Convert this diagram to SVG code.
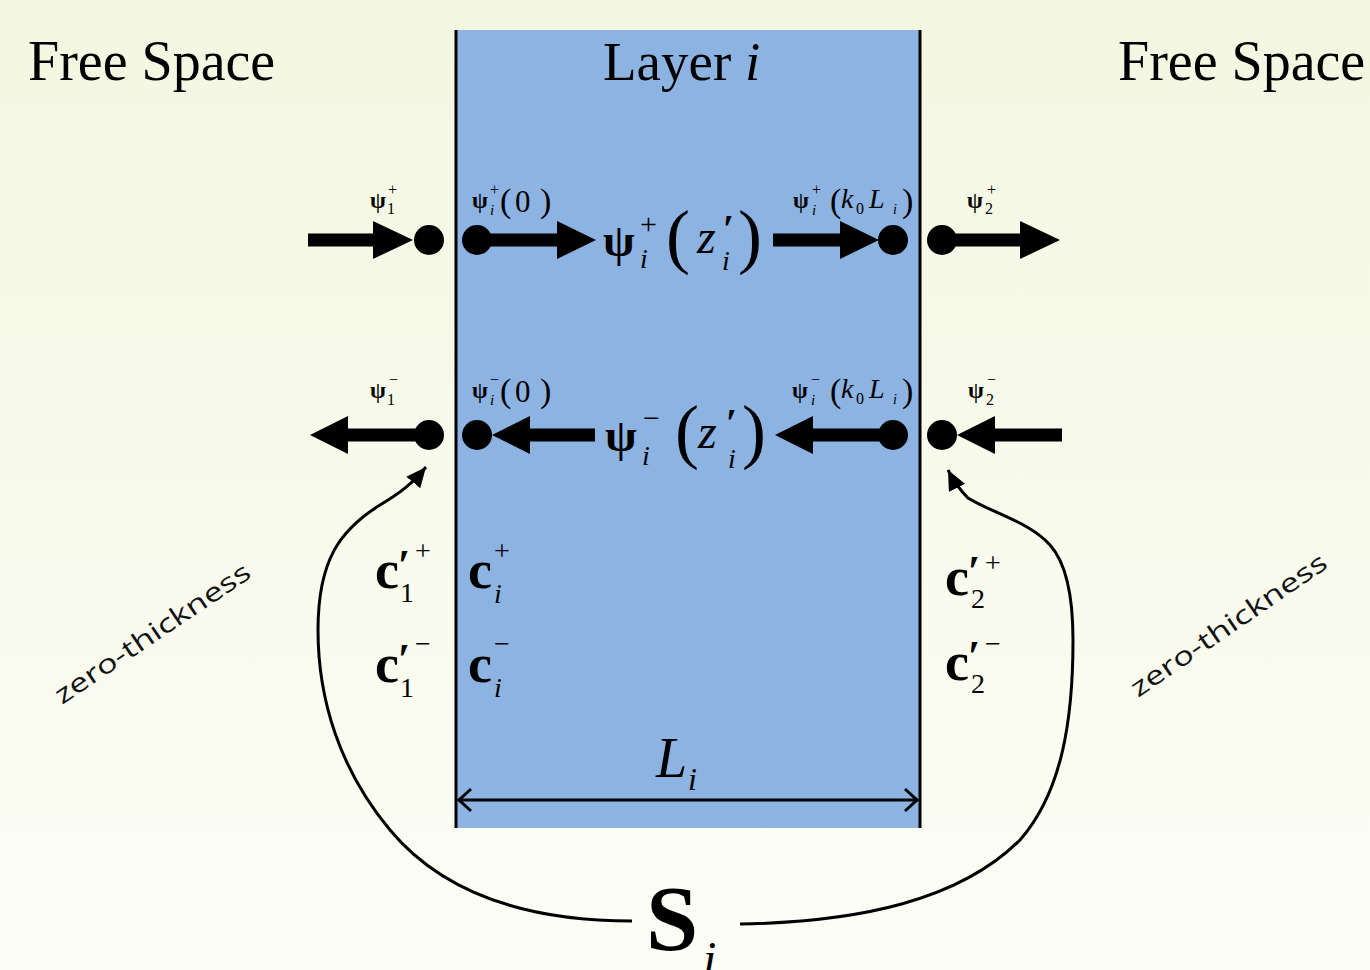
<svg xmlns="http://www.w3.org/2000/svg" width="1370" height="970" viewBox="0 0 1370 970">
<defs>
<linearGradient id="bg" x1="0" y1="0" x2="0" y2="1">
<stop offset="0" stop-color="#f3f7e1"/>
<stop offset="1" stop-color="#fcfdf6"/>
</linearGradient>
<marker id="ah" markerUnits="userSpaceOnUse" markerWidth="24" markerHeight="20" refX="20" refY="9" orient="auto" viewBox="0 0 24 20">
<path d="M0,0 L20,9 L0,18 Z" fill="#000"/>
</marker>
<style>
.s{font-family:"Liberation Serif","Times New Roman",serif;fill:#000}
.p{font-family:"Liberation Serif","DejaVu Serif",serif;fill:#000;font-weight:bold}
.b{font-weight:bold}
.i{font-style:italic}
.sans{font-family:"Open Sans","Noto Sans",sans-serif;fill:#111}
.ln{fill:none;stroke:#000;stroke-width:3}
.thick{fill:#000}
</style>
</defs>
<rect x="0" y="0" width="1370" height="970" fill="url(#bg)"/>

<g id="layer">
<rect x="455" y="30" width="465" height="798" fill="#8db3e2"/>
<line x1="456" y1="30" x2="456" y2="828" stroke="#000" stroke-width="3"/>
<line x1="920" y1="30" x2="920" y2="828" stroke="#000" stroke-width="3"/>
</g>

<g id="titles">
<text class="s" x="28" y="80" font-size="56">Free Space</text>
<text class="s" x="1118" y="80" font-size="56">Free Space</text>
<text class="s" x="603" y="80" font-size="55">Layer <tspan class="i">i</tspan></text>
</g>

<g id="connectors">
<!-- top row -->
<rect class="thick" x="308" y="233.5" width="67" height="13"/>
<polygon class="thick" points="373,221 413,240 373,259"/>
<circle class="thick" cx="429" cy="240" r="15"/>
<circle class="thick" cx="477" cy="240" r="15"/>
<rect class="thick" x="477" y="233.5" width="83" height="13"/>
<polygon class="thick" points="557,221 596,240 557,259"/>
<rect class="thick" x="773" y="233.5" width="69" height="13"/>
<polygon class="thick" points="840,221 879,240 840,259"/>
<circle class="thick" cx="893" cy="240" r="15"/>
<circle class="thick" cx="942" cy="240" r="15"/>
<rect class="thick" x="942" y="233.5" width="80" height="13"/>
<polygon class="thick" points="1020,221 1060,240 1020,259"/>
<!-- bottom row -->
<polygon class="thick" points="310,435 348,416 348,454"/>
<rect class="thick" x="346" y="428.5" width="82" height="13"/>
<circle class="thick" cx="429" cy="435" r="15"/>
<circle class="thick" cx="477" cy="435" r="15"/>
<polygon class="thick" points="492,435 530,416 530,454"/>
<rect class="thick" x="528" y="428.5" width="67" height="13"/>
<polygon class="thick" points="775,435 813,416 813,454"/>
<rect class="thick" x="811" y="428.5" width="82" height="13"/>
<circle class="thick" cx="893" cy="435" r="15"/>
<circle class="thick" cx="942" cy="435" r="15"/>
<polygon class="thick" points="957,435 995,416 995,454"/>
<rect class="thick" x="993" y="428.5" width="69" height="13"/>
<!-- curves -->
<path class="ln" d="M 632 921 C 520 921, 440 890, 390 830 C 340 770, 318 700, 318 630 C 318 560, 340 530, 380 505 C 400 493, 412 484, 426 467" marker-end="url(#ah)"/>
<path class="ln" d="M 740 924 C 860 922, 960 900, 1020 840 C 1062 792, 1073 720, 1073 640 C 1073 600, 1068 565, 1050 545 C 1030 522, 990 512, 968 498 C 960 490, 954 482, 948 470" marker-end="url(#ah)"/>
<!-- L_i dimension -->
<line class="ln" x1="458" y1="800" x2="918" y2="800"/>
<polyline class="ln" points="471,789 459,800 471,811"/>
<polyline class="ln" points="905,789 917,800 905,811"/>
</g>

<g id="lbl-top">
<text class="s b" x="370" y="208" font-size="23">ψ</text>
<text class="s" x="387" y="214" font-size="16">1</text>
<text class="s" x="388" y="195" font-size="16">+</text>

<text class="s b" x="472" y="208" font-size="23">ψ</text>
<text class="s i" x="490" y="215" font-size="15">i</text>
<text class="s" x="490" y="195" font-size="16">+</text>
<text class="s" x="500" y="212" font-size="34">(</text>
<text class="s" x="515" y="212" font-size="31">0</text>
<text class="s" x="540" y="212" font-size="34">)</text>

<text class="s b" x="793" y="208" font-size="23">ψ</text>
<text class="s i" x="812" y="215" font-size="15">i</text>
<text class="s" x="812" y="195" font-size="16">+</text>
<text class="s" x="830" y="212" font-size="34">(</text>
<text class="s i" x="841" y="208" font-size="28">k</text>
<text class="s" x="856" y="214" font-size="16">0</text>
<text class="s i" x="869" y="208" font-size="28">L</text>
<text class="s i" x="893" y="214" font-size="14">i</text>
<text class="s" x="902" y="212" font-size="34">)</text>

<text class="s b" x="967" y="208" font-size="23">ψ</text>
<text class="s" x="985" y="214" font-size="16">2</text>
<text class="s" x="987" y="195" font-size="16">+</text>
</g>

<g id="lbl-bottom">
<text class="s b" x="370" y="398" font-size="23">ψ</text>
<text class="s" x="387" y="405" font-size="16">1</text>
<text class="s" x="389" y="385" font-size="16">−</text>

<text class="s b" x="472" y="398" font-size="23">ψ</text>
<text class="s i" x="490" y="405" font-size="15">i</text>
<text class="s" x="490" y="385" font-size="16">−</text>
<text class="s" x="500" y="402" font-size="34">(</text>
<text class="s" x="515" y="402" font-size="31">0</text>
<text class="s" x="540" y="402" font-size="34">)</text>

<text class="s b" x="792" y="398" font-size="23">ψ</text>
<text class="s i" x="811" y="405" font-size="15">i</text>
<text class="s" x="811" y="385" font-size="16">−</text>
<text class="s" x="830" y="402" font-size="34">(</text>
<text class="s i" x="841" y="398" font-size="28">k</text>
<text class="s" x="856" y="404" font-size="16">0</text>
<text class="s i" x="869" y="398" font-size="28">L</text>
<text class="s i" x="893" y="404" font-size="14">i</text>
<text class="s" x="902" y="402" font-size="34">)</text>

<text class="s b" x="968" y="398" font-size="23">ψ</text>
<text class="s" x="986" y="405" font-size="16">2</text>
<text class="s" x="987" y="385" font-size="16">−</text>
</g>

<g id="psi-plus">
<text class="s b" x="603" y="256" font-size="46">ψ</text>
<text class="s i" x="640" y="268" font-size="28">i</text>
<text class="s" x="640" y="234" font-size="30">+</text>
<text class="s" x="666" y="260" font-size="72">(</text>
<text class="s i" x="697" y="253" font-size="48">z</text>
<text class="p" x="723" y="242" font-size="40">′</text>
<text class="s i" x="722" y="270" font-size="28">i</text>
<text class="s" x="738" y="260" font-size="72">)</text>
</g>

<g id="psi-minus">
<text class="s b" x="605" y="451" font-size="46">ψ</text>
<text class="s i" x="642" y="465" font-size="28">i</text>
<text class="s" x="643" y="428" font-size="30">−</text>
<text class="s" x="675" y="455" font-size="72">(</text>
<text class="s i" x="698" y="448" font-size="48">z</text>
<text class="p" x="726" y="436" font-size="40">′</text>
<text class="s i" x="728" y="468" font-size="28">i</text>
<text class="s" x="742" y="455" font-size="72">)</text>
</g>

<g id="coef-left">
<text class="s b" x="375" y="588" font-size="54">c</text>
<text class="p" x="398" y="580" font-size="44">′</text>
<text class="s" x="400" y="602" font-size="28">1</text>
<text class="s" x="415" y="560" font-size="28">+</text>
<text class="s b" x="375" y="682" font-size="54">c</text>
<text class="p" x="398" y="674" font-size="44">′</text>
<text class="s" x="400" y="697" font-size="28">1</text>
<text class="s" x="415" y="653" font-size="28">−</text>
</g>

<g id="coef-layer">
<text class="s b" x="468" y="588" font-size="54">c</text>
<text class="s i" x="494" y="603" font-size="28">i</text>
<text class="s" x="494" y="560" font-size="28">+</text>
<text class="s b" x="468" y="682" font-size="54">c</text>
<text class="s i" x="494" y="697" font-size="28">i</text>
<text class="s" x="494" y="653" font-size="28">−</text>
</g>

<g id="coef-right">
<text class="s b" x="945" y="595" font-size="54">c</text>
<text class="p" x="968" y="586" font-size="44">′</text>
<text class="s" x="971" y="608" font-size="28">2</text>
<text class="s" x="985" y="572" font-size="28">+</text>
<text class="s b" x="945" y="680" font-size="54">c</text>
<text class="p" x="968" y="671" font-size="44">′</text>
<text class="s" x="971" y="693" font-size="28">2</text>
<text class="s" x="985" y="653" font-size="28">−</text>
</g>

<g id="length">
<text class="s i" x="656" y="777" font-size="56">L</text>
<text class="s i" x="688" y="790" font-size="32">i</text>
</g>

<g id="smatrix">
<text class="s b" x="646" y="950" font-size="94">S</text>
<text class="s i" x="703" y="975" font-size="48">i</text>
</g>

<g id="zero-left">
<text class="sans" font-size="26" textLength="230" lengthAdjust="spacingAndGlyphs" transform="translate(62,705) rotate(-34)">zero-thickness</text>
</g>
<g id="zero-right">
<text class="sans" font-size="26" textLength="232" lengthAdjust="spacingAndGlyphs" transform="translate(1138,698) rotate(-34.5)">zero-thickness</text>
</g>
</svg>
